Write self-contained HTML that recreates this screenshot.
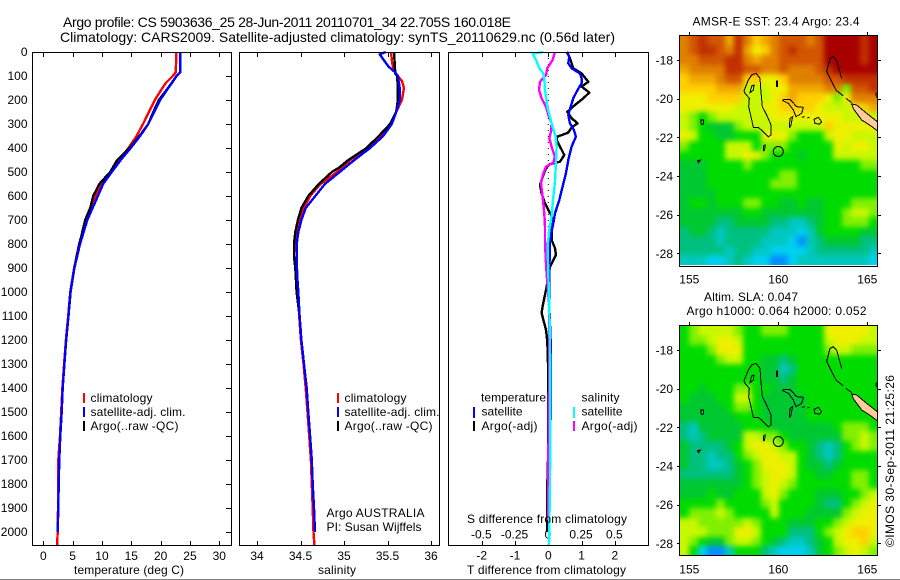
<!DOCTYPE html>
<html lang="en">
<head>
<meta charset="utf-8">
<title>Argo profile CS 5903636_25</title>
<style>
html,body{margin:0;padding:0;background:#fff;}
svg{position:absolute;left:0;top:0;display:block;}
text{font-family:"Liberation Sans",sans-serif;font-size:12px;fill:#000;}
.ttl{font-size:14px;}
.frame{fill:none;stroke:#000;stroke-width:1;shape-rendering:crispEdges;}
</style>
</head>
<body>
<svg id="fig" xmlns="http://www.w3.org/2000/svg" width="900" height="580" viewBox="0 0 900 580">
  <defs>
    <filter id="soft" x="-10%" y="-10%" width="120%" height="120%" color-interpolation-filters="sRGB">
      <feGaussianBlur stdDeviation="2.6"/>
    </filter>
    <clipPath id="clip1"><rect x="680" y="36" width="197" height="229"/></clipPath>
    <clipPath id="clip2"><rect x="680" y="326" width="197" height="230"/></clipPath>
  </defs>
  <rect x="0" y="0" width="900" height="580" fill="#fff"/>
  <text class="ttl" x="63" y="27" textLength="448">Argo profile: CS 5903636_25 28-Jun-2011 20110701_34 22.705S 160.018E</text>
  <text class="ttl" x="60" y="42" textLength="555">Climatology: CARS2009. Satellite-adjusted climatology: synTS_20110629.nc (0.56d later)</text>

  <g clip-path="url(#clip1)"><g id="map1" filter="url(#soft)"></g></g>
  <g clip-path="url(#clip2)"><g id="map2" filter="url(#soft)"></g></g>
  <g id="ticks"></g>
  <g id="series"></g>

  <rect class="frame" x="32.5" y="52.5" width="199" height="493"/>
  <rect class="frame" x="239.5" y="52.5" width="200" height="493"/>
  <rect class="frame" x="448.5" y="52.5" width="200" height="493"/>

  <text x="129" y="574" text-anchor="middle" textLength="110">temperature (deg C)</text>
  <text x="337" y="574" text-anchor="middle" textLength="38">salinity</text>
  <text x="467" y="523" textLength="160">S difference from climatology</text>
  <text x="467" y="574" textLength="159">T difference from climatology</text>

  <g shape-rendering="crispEdges">
    <rect x="83" y="393" width="2" height="10" fill="#f00"/>
    <rect x="83" y="407" width="2" height="10" fill="#00f"/>
    <rect x="83" y="421" width="2" height="10" fill="#000"/>
  </g>
  <text x="90.5" y="402" textLength="62">climatology</text>
  <text x="90.5" y="416" textLength="95">satellite-adj. clim.</text>
  <text x="90.5" y="430" textLength="88">Argo(..raw -QC)</text>

  <g shape-rendering="crispEdges">
    <rect x="337" y="393" width="2" height="10" fill="#f00"/>
    <rect x="337" y="407" width="2" height="10" fill="#00f"/>
    <rect x="337" y="421" width="2" height="10" fill="#000"/>
  </g>
  <text x="344.5" y="402" textLength="62">climatology</text>
  <text x="344.5" y="416" textLength="95">satellite-adj. clim.</text>
  <text x="344.5" y="430" textLength="88">Argo(..raw -QC)</text>
  <text x="326.5" y="517" textLength="98">Argo AUSTRALIA</text>
  <text x="326.5" y="531" textLength="95">PI: Susan Wijffels</text>

  <g shape-rendering="crispEdges">
    <rect x="473" y="407" width="2" height="11" fill="#00f"/>
    <rect x="473" y="421" width="2" height="10" fill="#000"/>
    <rect x="573" y="407" width="2" height="11" fill="#0ff"/>
    <rect x="573" y="421" width="2" height="10" fill="#f0f"/>
  </g>
  <text x="481" y="401.5" textLength="65">temperature</text>
  <text x="481.5" y="415.5" textLength="41">satellite</text>
  <text x="481.5" y="430" textLength="56">Argo(-adj)</text>
  <text x="581.5" y="401.5" textLength="38">salinity</text>
  <text x="581.5" y="415.5" textLength="41">satellite</text>
  <text x="581.5" y="430" textLength="56">Argo(-adj)</text>

  <text x="692.5" y="25.5" textLength="167">AMSR-E SST: 23.4  Argo: 23.4</text>
  <text x="704" y="301" textLength="94">Altim. SLA: 0.047</text>
  <text x="686.5" y="315" textLength="180">Argo h1000: 0.064 h2000: 0.052</text>
  <text transform="translate(894,547) rotate(-90)" x="0" y="0" textLength="172">©IMOS 30-Sep-2011 21:25:26</text>

  <g id="coast1" transform="translate(670,10) scale(0.33333)"></g>
  <g id="coast2" transform="translate(670,300) scale(0.33333)"></g>
  <circle cx="778.3" cy="151.5" r="5" fill="none" stroke="#000"/>
  <circle cx="778.3" cy="441.5" r="5" fill="none" stroke="#000"/>
  <rect class="frame" x="679.5" y="35.5" width="198" height="231"/>
  <rect class="frame" x="679.5" y="325.5" width="198" height="230"/>
  <rect x="0" y="579" width="900" height="1" fill="#808080"/>
</svg>

<script>
// ---- axis tick values ----
const depthTicks = [0,100,200,300,400,500,600,700,800,900,1000,1100,1200,1300,1400,1500,1600,1700,1800,1900,2000];
const tempTicks = [0,5,10,15,20,25,30];
const salTicks = [34,34.5,35,35.5,36];
const salTickLabels = ['34','34.5','35','35.5','36'];
const tDiffTicks = [-2,-1,0,1,2];
const sDiffTicks = [-0.5,-0.25,0,0.25,0.5];
const sDiffTickLabels = ['-0.5','-0.25','0','0.25','0.5'];
const lonTicks = [155,160,165];
const latTicks = [-18,-20,-22,-24,-26,-28];

// ---- temperature panel ----
const tDepth = [0,85,100,130,150,200,250,300,350,400,450,500,550,600,650,700,800,900,1000,1100,1200,1300,1400,1500,1600,1700,1800,1900,2000,2055];
const tClim = [22.7,22.56,22.05,20.85,20.3,19,18,17,15.9,14.5,12.95,11.4,9.8,8.9,8.1,7.3,6.1,5.25,4.6,4.25,3.85,3.55,3.25,3.05,2.85,2.55,2.55,2.5,2.45,2.35];
const tArgo = [23.3,23.3,22.7,21.85,21.25,19.7,18.75,17.9,16.4,14.7,12.6,11.4,9.55,8.5,8,7.15,6.15,5.3,4.6,4.3,3.9,3.6,3.3,3.13,2.9,2.73,2.62,2.56,2.45];
const tSat = [23.35,23.35,22.7,21.9,21.3,19.9,18.9,17.9,16.5,14.9,13.2,11.65,10.2,9.3,8.4,7.5,6.25,5.3,4.66,4.3,3.9,3.6,3.3,3.13,2.9,2.73,2.62,2.56,2.45];

// ---- salinity panel ----
const sClimDepth = [0,50,90,120,150,200,250,300,350,400,450,500,550,600,650,700,750,800,900,1000,1100,1200,1300,1400,1500,1600,1700,1800,1900,2000,2055];
const sClim = [35.54,35.555,35.59,35.665,35.69,35.665,35.6,35.54,35.42,35.28,35.07,34.92,34.73,34.61,34.54,34.49,34.46,34.45,34.46,34.47,34.485,34.505,34.535,34.56,34.58,34.6,34.62,34.63,34.64,34.65,34.66];
const sArgoDepth = [0,90,100,150,200,250,300,350,400,450,480,500,550,600,650,700,750,800,850,900,1000,1100,1200,1300,1400,1500,1600,1700,1800,1900,2000];
const sArgo = [35.575,35.59,35.61,35.62,35.62,35.6,35.53,35.4,35.26,35.05,34.95,34.86,34.71,34.59,34.51,34.47,34.44,34.425,34.425,34.44,34.455,34.49,34.51,34.54,34.571,34.59,34.61,34.63,34.64,34.655,34.667];
const sSatDepth = [0,10,30,60,85,100,150,200,250,300,350,400,450,500,550,600,650,700,750,800,900,1000,1100,1200,1300,1400,1500,1600,1700,1800,1900,2000];
const sSat = [35.48,35.41,35.45,35.51,35.59,35.62,35.64,35.64,35.6,35.55,35.45,35.3,35.12,34.95,34.78,34.67,34.56,34.51,34.475,34.456,34.456,34.475,34.49,34.51,34.54,34.571,34.59,34.61,34.63,34.64,34.655,34.667];

// ---- difference panel ----
const dTSatDepth = [0,19,47,68,89,110,131,158,193,228,263,297,325,353,394,450,506,561,617,672,714,783,922,1061,1200,1400,1700,2000];
const dTSat = [0.55,0.63,0.6,0.7,0.95,1,1,0.88,0.75,0.67,0.6,0.65,0.77,0.83,0.7,0.6,0.53,0.43,0.33,0.2,0.15,0.05,0.03,0.03,0.07,0.08,0.05,0.03];
const dTArgoDepth = [0,26,47,68,89,124,144,169,193,221,249,276,297,314,336,353,367,394,429,457,467,485,512,554,589,631,679,700,728,783,818,846,894,978,1061,1088,1158,1205,1300,1500,1700,1850,2000];
const dTArgo = [0.57,0.65,0.7,0.75,1,1.2,1,1.23,1.05,0.8,0.57,0.7,0.88,0.7,0.6,0.27,0.25,0.35,0.48,0.35,0.05,-0.07,-0.15,-0.25,-0.2,-0.1,0.08,0.15,0.1,0.1,0.2,0.23,0.05,-0.05,-0.17,-0.2,-0.07,-0.03,-0.01,-0.01,-0.01,-0.04,-0.04];
const dSArgoDepth = [0,33,68,96,124,158,193,228,263,297,332,360,394,436,461,478,506,547,603,672,728,783,853,922,1061,1400,1700,1950];
const dSArgo = [0.05,0.0325,-0.0075,-0.0175,-0.0625,-0.07,-0.05,-0.0175,0,0.025,0.02,0.0075,0.025,0.05,0.0375,-0.0175,-0.0375,-0.055,-0.0425,-0.03,-0.025,-0.025,-0.02,-0.0125,0.0075,0.005,0,0];
const dSSatDepth = [0,8,33,68,89,117,158,228,297,353,394,464,547,603,686,742,811,922,1061,1200,1500,1800,2055];
const dSSat = [-0.0375,-0.1175,-0.0925,-0.0675,-0.0375,-0.03,-0.025,-0.0075,0.025,0.055,0.0625,0.0575,0.05,0.0375,0.025,0.0075,-0.005,0,0.0075,0.0125,0.015,0.0125,0.005];

// ---- map cell values: colour-scale levels (0 = warmest/highest, 14 = coolest/lowest) ----
const sstGrid = [
[3,2,1,2,2,4,1,3,5,4,3,2,2,2,3,2,0,0,0,0,1,0],
[3,2,1,1,2,3,1,4,6,5,3,2,1,2,2,2,0,0,0,0,1,0],
[3,3,2,2,2,1,1,3,4,3,3,2,2,2,2,2,0,0,0,0,1,0],
[4,3,3,3,3,1,1,2,2,3,3,2,3,3,3,2,1,0,0,0,0,0],
[5,4,4,4,3,2,2,5,5,6,6,5,3,3,3,3,2,2,1,1,1,1],
[5,5,5,5,4,4,4,7,7,7,6,6,4,4,4,4,3,3,8,2,2,1],
[6,6,6,5,5,5,5,7,7,7,6,5,4,5,5,5,6,8,6,3,3,3],
[6,6,6,6,6,6,7,7,7,6,6,5,5,5,5,6,7,7,7,6,5,4],
[7,8,9,8,7,7,7,7,7,7,6,6,6,6,6,6,6,6,7,7,7,7],
[7,8,9,10,10,10,8,7,7,7,7,7,7,7,7,7,5,6,6,6,6,6],
[6,7,9,9,10,10,9,9,9,6,6,6,8,9,9,9,7,6,6,7,7,7],
[8,9,9,9,9,7,7,7,9,8,8,8,9,9,9,9,9,6,7,6,6,7],
[9,9,9,9,9,7,7,6,6,8,9,9,9,10,9,9,9,7,7,7,7,7],
[10,10,10,9,9,9,9,8,9,9,9,9,9,9,9,9,9,9,9,9,8,8],
[10,10,10,9,9,9,9,9,9,9,9,8,8,9,9,9,9,9,9,9,9,9],
[10,10,10,9,9,9,9,9,9,9,8,8,8,9,9,9,9,9,9,9,9,9],
[10,10,10,10,9,9,9,9,9,9,9,9,9,9,9,9,9,9,9,9,9,9],
[10,9,9,10,9,9,9,8,8,9,9,10,10,9,10,10,9,9,9,8,8,8],
[10,10,10,10,10,10,10,9,9,10,10,10,10,10,10,10,9,9,8,7,7,8],
[10,10,10,10,11,11,10,10,10,10,11,11,12,12,11,10,9,9,8,8,8,9],
[11,10,10,11,12,11,11,11,11,11,12,12,12,13,12,10,9,9,9,9,10,10],
[11,11,11,11,12,11,11,11,11,12,12,12,13,14,12,11,10,10,10,10,11,11],
[11,11,11,11,11,12,11,11,12,12,13,13,13,13,12,11,11,11,11,11,11,12],
[12,12,12,13,13,12,11,12,13,13,14,14,13,12,12,12,12,12,12,12,12,13]
];
const slaGrid = [
[9,8,7,7,7,7,8,9,9,8,8,8,9,9,9,9,6,6,6,6,6,7],
[9,8,8,7,6,6,7,9,9,9,9,9,9,9,9,9,7,6,6,6,7,7],
[9,9,9,8,6,6,6,9,9,9,9,9,9,9,9,9,8,7,7,8,8,8],
[9,9,9,9,8,7,7,9,9,10,10,11,10,9,9,9,9,9,9,9,9,9],
[9,9,9,9,9,9,9,9,9,10,10,12,11,9,9,9,9,9,9,9,9,9],
[9,9,9,9,9,9,9,9,9,10,10,11,10,9,9,9,9,9,9,9,9,9],
[9,9,10,9,9,9,8,8,9,9,10,10,10,9,9,9,9,9,9,9,9,9],
[9,10,10,10,9,9,7,7,9,10,10,10,10,10,9,9,9,9,9,9,9,9],
[10,10,10,10,10,9,8,8,9,10,10,10,10,10,9,9,9,9,9,9,9,9],
[10,10,10,10,10,10,9,9,9,10,10,10,10,10,9,9,9,9,9,9,9,9],
[11,12,10,10,10,10,10,9,9,9,10,10,10,10,10,10,10,9,8,8,8,9],
[11,12,11,10,10,10,10,7,7,8,8,9,10,10,10,10,10,10,8,8,7,8],
[10,11,11,11,11,10,9,7,6,6,7,8,9,9,10,11,12,11,9,8,7,8],
[10,11,11,12,11,11,9,8,7,6,6,7,7,9,10,11,12,11,9,9,9,9],
[10,11,11,12,12,11,10,9,8,6,6,6,7,9,10,10,11,10,9,9,9,9],
[11,11,11,11,11,11,10,9,8,7,6,6,7,9,9,10,10,9,9,8,8,9],
[10,10,10,10,10,10,10,9,8,7,6,7,8,9,9,9,9,9,9,8,8,9],
[10,10,10,9,10,10,9,9,9,7,6,8,9,9,9,10,10,10,9,9,8,7],
[9,9,9,9,8,9,9,9,9,8,7,9,9,9,9,10,11,11,9,8,7,6],
[9,8,8,8,7,8,9,9,9,9,7,9,9,9,10,10,10,10,8,7,6,6],
[7,7,8,8,8,8,8,7,8,9,9,9,10,10,10,9,9,8,7,6,6,6],
[7,7,7,8,8,8,6,6,7,9,9,9,11,11,11,9,8,7,6,5,5,6],
[7,8,9,10,10,8,7,7,8,9,10,11,12,12,11,10,9,7,6,6,5,7],
[7,9,13,14,14,12,9,9,9,11,12,13,13,13,12,10,9,8,7,6,7,8]
];

// ---- colour scale ----
const levelColors = ['#a80000','#c03000','#d25600','#e08000','#f0a800','#ffd000','#eef000','#c8f800','#80f000','#00dc00','#00c830','#00c080','#00c8c0','#00d0f0','#0090ff'];

// ---- axis functions ----
const SVGNS = 'http://www.w3.org/2000/svg';
function yDepth(d){ return 52 + d * 0.24; }
function xTemp(t){ return 43.3 + t * 5.867; }
function xSal(s){ return 257 + (s - 34) * 87; }
function xTDiff(t){ return 548.3 + t * 33.3; }
function xSDiff(s){ return 548.3 + s * 133; }
function xLon(lon){ return 689.3 + (lon - 155) * 17.8; }
function yLat1(lat){ return 60 + (-18 - lat) * 19.33; }
function yLat2(lat){ return 350 + (-18 - lat) * 19.33; }

function make(tag, attrs, parent){
  const node = document.createElementNS(SVGNS, tag);
  for (const key in attrs) node.setAttribute(key, attrs[key]);
  parent.appendChild(node);
  return node;
}
const tickG = document.getElementById('ticks');
const seriesG = document.getElementById('series');

function tickLine(x1, y1, x2, y2, name){
  const el = make('line', {x1:x1, y1:y1, x2:x2, y2:y2, stroke:'#000', 'stroke-width':1, 'shape-rendering':'crispEdges'}, tickG);
  
  
}
function tickText(x, y, str, anchor, name){
  const el = make('text', {x:x, y:y, 'text-anchor':anchor}, tickG);
  el.textContent = str;
  
  
}

// depth axis
depthTicks.forEach(function(d){
  const y = Math.round(yDepth(d)) + 0.5;
  tickLine(226, y, 231, y, 'depth-tick');
  tickText(27.5, yDepth(d) + 4, String(d), 'end', 'depth-tick-label');
});
// temperature axis
tempTicks.forEach(function(t){
  const x = Math.round(xTemp(t)) + 0.5;
  tickLine(x, 52, x, 57, 'temperature-tick-top');
  tickLine(x, 541, x, 546, 'temperature-tick-bottom');
  tickText(xTemp(t), 560, String(t), 'middle', 'temperature-tick-label');
});
// salinity axis
salTicks.forEach(function(s, i){
  const x = Math.round(xSal(s)) + 0.5;
  tickLine(x, 52, x, 57, 'salinity-tick-top');
  tickLine(x, 541, x, 546, 'salinity-tick-bottom');
  tickText(xSal(s), 560, salTickLabels[i], 'middle', 'salinity-tick-label');
});
// difference axes
tDiffTicks.forEach(function(t){
  const x = Math.round(xTDiff(t)) + 0.5;
  tickLine(x, 52, x, 57, 'difference-tick-top');
  tickLine(x, 541, x, 546, 'difference-tick-bottom');
  tickText(xTDiff(t), 559.5, String(t), 'middle', 't-difference-tick-label');
});
sDiffTicks.forEach(function(s, i){
  tickText(xSDiff(s) - 0.5, 538.5, sDiffTickLabels[i], 'middle', 's-difference-tick-label');
});
// map axes
lonTicks.forEach(function(lon){
  const x = Math.round(xLon(lon)) + 0.5;
  tickLine(x, 32, x, 36, 'sst-map-lon-tick');
  tickLine(x, 322, x, 326, 'sla-map-lon-tick');
  tickText(xLon(lon), 283.5, String(lon), 'middle', 'sst-map-lon-label');
  tickText(xLon(lon), 573.5, String(lon), 'middle', 'sla-map-lon-label');
});
latTicks.forEach(function(lat){
  const y1 = Math.round(yLat1(lat)) + 0.5;
  const y2 = Math.round(yLat2(lat)) + 0.5;
  tickLine(677, y1, 680, y1, 'sst-map-lat-tick-left');
  tickLine(877, y1, 881, y1, 'sst-map-lat-tick-right');
  tickLine(677, y2, 680, y2, 'sla-map-lat-tick-left');
  tickLine(877, y2, 881, y2, 'sla-map-lat-tick-right');
  tickText(673, yLat1(lat) + 4.5, String(lat), 'end', 'sst-map-lat-label');
  tickText(673, yLat2(lat) + 4.5, String(lat), 'end', 'sla-map-lat-label');
});

// zero reference line of the difference panel
const zeroLine = make('line', {x1:xTDiff(0), y1:yDepth(0), x2:xTDiff(0), y2:yDepth(2055), stroke:'#000', 'stroke-width':1, 'stroke-dasharray':'1 5'}, seriesG);



// profile curves
function curve(depths, values, xFn, color, name){
  let d = '';
  values.forEach(function(v, i){
    d += (i ? 'L' : 'M') + xFn(v).toFixed(1) + ' ' + yDepth(depths[i]).toFixed(1);
  });
  const el = make('path', {d:d, fill:'none', stroke:color, 'stroke-width':2.4, 'stroke-linejoin':'round', 'shape-rendering':'crispEdges'}, seriesG);
  
  
}
curve(tDepth, tClim, xTemp, '#f00', 'temperature-climatology-line');
curve(tDepth, tArgo, xTemp, '#000', 'temperature-argo-line');
curve(tDepth, tSat, xTemp, '#00f', 'temperature-satellite-line');
curve(sClimDepth, sClim, xSal, '#f00', 'salinity-climatology-line');
curve(sArgoDepth, sArgo, xSal, '#000', 'salinity-argo-line');
curve(sSatDepth, sSat, xSal, '#00f', 'salinity-satellite-line');
curve(dTArgoDepth, dTArgo, xTDiff, '#000', 't-difference-argo-line');
curve(dTSatDepth, dTSat, xTDiff, '#00f', 't-difference-satellite-line');
curve(dSArgoDepth, dSArgo, xSDiff, '#f0f', 's-difference-argo-line');
curve(dSSatDepth, dSSat, xSDiff, '#0ff', 's-difference-satellite-line');

// map cells: edge cells overhang the clip so the softened image keeps full colour to the frame
function drawCells(grid, groupId, top, bottom, name){
  const g = document.getElementById(groupId);
  const cw = 198 / grid[0].length;
  const ch = (bottom - top) / grid.length;
  const overhang = 12;
  grid.forEach(function(row, r){
    row.forEach(function(level, c){
      let x0 = Math.round(680 + c * cw), x1 = Math.round(680 + (c + 1) * cw);
      let y0 = Math.round(top + r * ch), y1 = Math.round(top + (r + 1) * ch);
      if (c === 0) x0 -= overhang;
      if (c === row.length - 1) x1 += overhang;
      if (r === 0) y0 -= overhang;
      if (r === grid.length - 1) y1 += overhang;
      const el = make('rect', {x:x0, y:y0, width:x1 - x0, height:y1 - y0, fill:levelColors[level], 'shape-rendering':'crispEdges'}, g);
      
      
    });
  });
}
drawCells(sstGrid, 'map1', 36, 265, 'sst-map-cell');
drawCells(slaGrid, 'map2', 326, 556, 'sla-map-cell');

// coastlines (drawn in a shared map-local coordinate frame)
const coastOutline = 'M245,195L258,190L270,205L272,235L277,290L290,315L303,345L303,375L295,380L280,365L265,352L250,352L243,320L236,290L238,265L225,250L222,243L235,210Z'
  + 'M245,228L252,225L250,240L240,248Z'
  + 'M340,268L360,268L380,290L400,292L395,310L378,320L370,300L355,280L338,272Z'
  + 'M432,328L445,322L455,335L448,343L435,340Z'
  + 'M92,330L100,330L101,342L94,344Z'
  + 'M82,452L92,450L85,458Z'
  + 'M470,185L480,145L490,140L500,150L508,180L515,205M470,185L485,215L498,240L520,258'
  + 'M360,325L368,320L362,350L358,352Z'
  + 'M320,213L323,213L322,230L319,230Z'
  + 'M281,408L285,405L284,420L280,422Z'
  + 'M395,322L404,320M412,324L418,322M618,250L622,248L622,262L619,260Z'
  + 'M528,265L545,278';
const landOutline = 'M545,282L560,285L590,310L622,335L622,362L600,346L575,330L550,296Z';
['coast1', 'coast2'].forEach(function(id, i){
  const g = document.getElementById(id);
  const land = make('path', {d:landOutline, fill:'#ffcc99', stroke:'#000', 'stroke-width':3, 'shape-rendering':'crispEdges'}, g);
  
  
  const line = make('path', {d:coastOutline, fill:'none', stroke:'#000', 'stroke-width':3, 'shape-rendering':'crispEdges'}, g);
  
  
});
</script>
</body>
</html>
